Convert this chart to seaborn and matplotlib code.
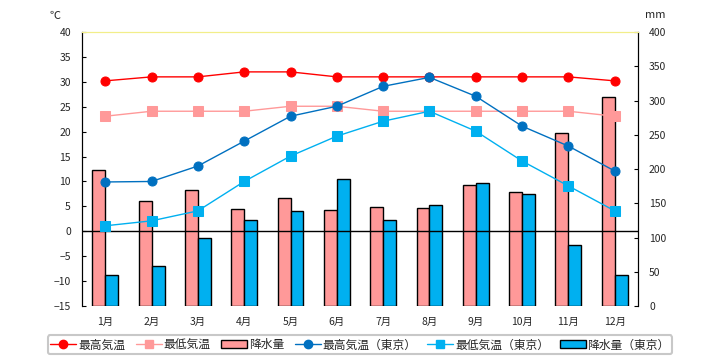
import numpy as np
import pandas as pd
import matplotlib
matplotlib.use("Agg")
import matplotlib.pyplot as plt
from matplotlib.lines import Line2D
from matplotlib.patches import Patch
import seaborn as sns

# ----------------------------
# data
# ----------------------------
months = ["1月", "2月", "3月", "4月", "5月", "6月", "7月", "8月", "9月", "10月", "11月", "12月"]

max_temp = [30.2, 31.0, 31.0, 32.0, 32.0, 31.0, 31.0, 31.0, 31.0, 31.0, 31.0, 30.2]
min_temp = [23.1, 24.1, 24.1, 24.1, 25.1, 25.1, 24.1, 24.1, 24.1, 24.1, 24.1, 23.1]
max_tokyo = [9.9, 10.0, 13.1, 18.1, 23.1, 25.1, 29.1, 30.9, 27.1, 21.1, 17.1, 12.1]
min_tokyo = [1.1, 2.1, 4.1, 10.0, 15.1, 19.1, 22.1, 24.1, 20.1, 14.1, 9.1, 4.1]

rain = [198, 154, 170, 141, 157, 140, 144, 143, 176, 167, 252, 305]
rain_tokyo = [45, 59, 100, 125, 138, 185, 125, 147, 179, 163, 89, 45]

labels = ["最高気温", "最低気温", "降水量", "最高気温（東京）", "最低気温（東京）", "降水量（東京）"]

# ----------------------------
# style
# ----------------------------
sns.set_style("white")
plt.rcParams["font.family"] = ["Noto Sans CJK JP", "DejaVu Sans"]

red = "#FF0000"
pink = "#FF9999"
dblue = "#0070C0"
lblue = "#00B0F0"

fig = plt.figure(figsize=(7.2, 3.6), dpi=100)
ax = fig.add_axes([0.114, 0.15, 0.772, 0.761])
ax2 = ax.twinx()

# bars on the precipitation axis (drawn underneath)
bars = pd.DataFrame({
    "month": months * 2,
    "value": rain + rain_tokyo,
    "series": [labels[2]] * 12 + [labels[5]] * 12,
})
sns.barplot(data=bars, x="month", y="value", hue="series", ax=ax2,
            palette=[pink, lblue], width=0.56, gap=0, edgecolor="black",
            linewidth=1, legend=False, saturation=1)

# temperature lines
temps = pd.DataFrame({
    "month": months * 4,
    "value": max_temp + min_temp + max_tokyo + min_tokyo,
    "series": [labels[0]] * 12 + [labels[1]] * 12 + [labels[3]] * 12 + [labels[4]] * 12,
})
sns.pointplot(data=temps, x="month", y="value", hue="series", ax=ax,
              palette=[red, pink, dblue, lblue], markers=["o", "s", "o", "s"],
              linestyles="-", legend=False, markersize=6.5, linewidth=1)

ax.set_zorder(ax2.get_zorder() + 1)
ax.patch.set_visible(False)
ax2.set_facecolor("#FFFFCC")

ax.set_xlim(-0.5, 11.5)
ax.set_ylim(-15, 40)
ax.set_yticks(np.arange(-15, 41, 5))
ax.axhline(0, color="black", lw=1, zorder=0)
ax2.set_ylim(0, 400)
ax2.set_yticks(np.arange(0, 401, 50))

for a in (ax, ax2):
    a.set_xlabel("")
    a.set_ylabel("")
    a.spines["bottom"].set_visible(False)
    a.spines["top"].set_color("#F2EE8A")
    a.spines["top"].set_linewidth(0.8)
    a.spines["left"].set_color("black")
    a.spines["right"].set_color("black")
    a.tick_params(axis="y", direction="in", length=3, color="black", labelsize=7.5, pad=8)
    a.tick_params(axis="x", length=0, labelsize=7.5, pad=8)

fig.text(0.076, 0.955, "℃", fontsize=8, ha="center", va="center")
fig.text(0.91, 0.958, "mm", fontsize=8, ha="center", va="center")

# legend
handles = [
    Line2D([], [], color=red, marker="o", markersize=6, lw=1),
    Line2D([], [], color=pink, marker="s", markersize=6, lw=1),
    Patch(facecolor=pink, edgecolor="black"),
    Line2D([], [], color=dblue, marker="o", markersize=6, lw=1),
    Line2D([], [], color=lblue, marker="s", markersize=6, lw=1),
    Patch(facecolor=lblue, edgecolor="black"),
]
leg = fig.legend(handles, labels, loc="center", bbox_to_anchor=(0.5, 0.042), ncol=6,
                 fontsize=8.5, frameon=True, fancybox=True, edgecolor="#C8C8C8",
                 framealpha=1, handlelength=2.2, handletextpad=0.15, columnspacing=0.9,
                 borderpad=0.25)
leg.get_frame().set_linewidth(1.5)

fig.savefig("out.png", dpi=100)
